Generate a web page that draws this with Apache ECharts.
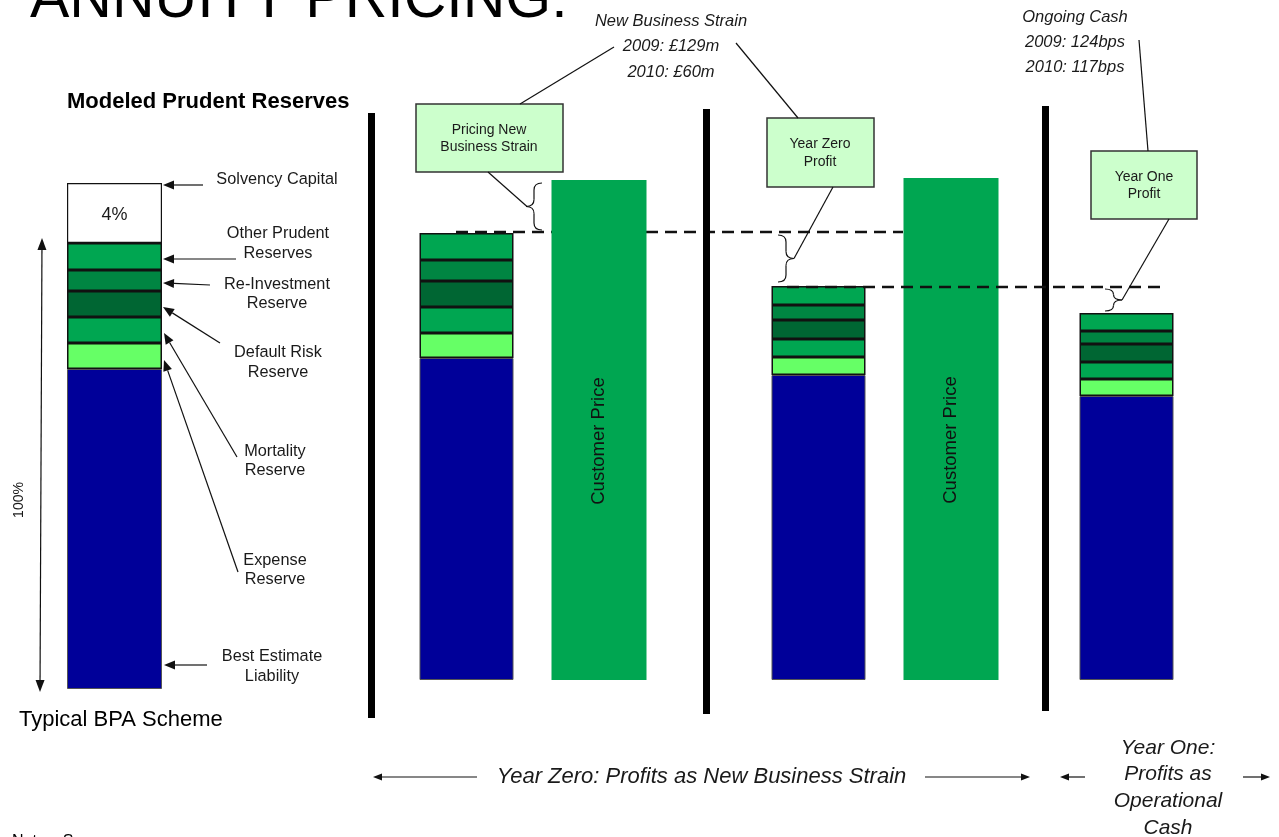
<!DOCTYPE html>
<html>
<head>
<meta charset="utf-8">
<script src="https://cdn.jsdelivr.net/npm/echarts@6/dist/echarts.min.js"></script>
<style>
html,body{margin:0;padding:0;background:#fff;overflow:hidden}
#main{width:1279px;height:837px}
</style>
</head>
<body>
<div id="main"></div>
<script>
// ---------------- DATA ----------------
// reserve components, bottom to top
const reserveNames = ['Best Estimate Liability', 'Expense Reserve', 'Mortality Reserve',
  'Default Risk Reserve', 'Re-Investment Reserve', 'Other Prudent Reserves'];
// Typical BPA scheme column (schematic units)
const bpaCategory = ['Typical BPA Scheme'];
const bpaScheme = [320, 26, 26, 26, 21, 27];
const bpaSolvency = 60;
const bpaSolvencyLabel = '4%';
// reserve columns: pricing basis, year zero, year one
const columnNames = ['Pricing Basis', 'Year Zero Reserves', 'Year One Reserves'];
const bestEstimate = [322, 305, 284];
const expenseRes   = [25, 18, 17];
const mortalityRes = [26, 18, 17];
const defaultRes   = [26, 19, 18];
const reinvestRes  = [21, 15, 13];
const otherRes     = [27, 19, 18];
// customer price columns
const priceNames = ['Customer Price (pricing)', 'Customer Price (year zero)'];
const priceLabel = 'Customer Price';
const customerPrice = [500, 502];

// ---------------- LAYOUT / STYLE ----------------
const FONT = '"Liberation Sans", Arial, sans-serif';
const SLOT_COUNT = 24;
const reserveSlots = [8, 16, 23];   // category slots of reserve columns
const priceSlots = [11, 19];        // category slots of price columns
const reserveColors = ['#000099', '#66FF66', '#00A651', '#006633', '#008542', '#00A651'];
const reserveCols = [bestEstimate, expenseRes, mortalityRes, defaultRes, reinvestRes, otherRes];

// category axis with spacer slots
const slotCats = Array.from({length: SLOT_COUNT}, (_, i) => ' '.repeat(i + 1));
reserveSlots.forEach((s, j) => { slotCats[s] = columnNames[j]; });
priceSlots.forEach((s, j) => { slotCats[s] = priceNames[j]; });
function spread(slots, values) {
  const arr = Array(SLOT_COUNT).fill('-');
  slots.forEach((s, j) => { arr[s] = values[j]; });
  return arr;
}

const chart = echarts.init(document.getElementById('main'), null, {renderer: 'canvas'});

const series = [];
// left scheme column
reserveNames.forEach((name, i) => {
  series.push({
    name, type: 'bar', xAxisIndex: 0, yAxisIndex: 0, stack: 'bpa', barWidth: 95, clip: false,
    data: [bpaScheme[i]],
    itemStyle: {color: reserveColors[i], borderColor: i === 0 ? '#555' : '#111', borderWidth: i === 0 ? 1 : 1.5}
  });
});
series.push({
  name: 'Solvency Capital', type: 'bar', xAxisIndex: 0, yAxisIndex: 0, stack: 'bpa', barWidth: 95, clip: false,
  data: [{value: bpaSolvency}],
  itemStyle: {color: '#FFFFFF', borderColor: '#111', borderWidth: 1.2},
  label: {show: true, position: 'inside', formatter: bpaSolvencyLabel, color: '#1a1a1a',
    fontSize: 18, fontFamily: FONT, offset: [0, 2]}
});
// main reserve columns
reserveNames.forEach((name, i) => {
  series.push({
    name, type: 'bar', xAxisIndex: 1, yAxisIndex: 1, stack: 'reserves', barWidth: 94, barGap: '-100%',
    clip: false,
    data: spread(reserveSlots, reserveCols[i]),
    itemStyle: {color: reserveColors[i], borderColor: i === 0 ? '#555' : '#111', borderWidth: i === 0 ? 1 : 1.5}
  });
});
// customer price columns
series.push({
  name: priceLabel, type: 'bar', xAxisIndex: 1, yAxisIndex: 1, stack: 'price', barWidth: 95, barGap: '-100%',
  clip: false,
  data: spread(priceSlots, customerPrice),
  itemStyle: {color: '#00A651'},
  label: {show: true, position: 'inside', rotate: 90, formatter: '{a}', color: '#111',
    fontSize: 18.5, fontFamily: FONT, offset: [-11, 0]}
});

chart.setOption({
  animation: false,
  backgroundColor: '#ffffff',
  textStyle: {fontFamily: FONT},
  grid: [
    {left: 52, width: 125, top: 100, height: 589},
    {left: 93, width: 1056, top: 100, height: 580}
  ],
  xAxis: [
    {type: 'category', gridIndex: 0, data: bpaCategory, show: false},
    {type: 'category', gridIndex: 1, data: slotCats, show: false}
  ],
  yAxis: [
    {type: 'value', gridIndex: 0, min: 0, max: 589, show: false},
    {type: 'value', gridIndex: 1, min: 0, max: 580, show: false}
  ],
  series
});

// ---------------- ANNOTATIONS ----------------
const colTotal = j => reserveCols.reduce((a, arr) => a + arr[j], 0);
const py = (slot, v) => chart.convertToPixel({xAxisIndex: 1, yAxisIndex: 1}, [slot, v])[1];
const top1 = py(reserveSlots[0], colTotal(0));
const top3 = py(reserveSlots[1], colTotal(1));
const top4 = py(reserveSlots[2], colTotal(2));
const cp1Top = py(priceSlots[0], customerPrice[0]);

const g = [];
const INK = '#111';
function text(x, y, t, font, opts) {
  opts = opts || {};
  g.push({
    type: 'text', x, y, z: 20, rotation: opts.rotation || 0,
    style: {text: t, font, fill: opts.color || '#1a1a1a', align: opts.align || 'center',
      textAlign: opts.align || 'center', verticalAlign: 'middle', textVerticalAlign: 'middle',
      lineHeight: opts.lh || undefined}
  });
}
function line(x1, y1, x2, y2, lw, dash, z) {
  g.push({type: 'line', z: z === undefined ? 15 : z, shape: {x1, y1, x2, y2},
    style: {stroke: INK, lineWidth: lw || 1.2, lineDash: dash || null}});
}
function arrow(x1, y1, x2, y2, len, w, lw) {
  len = len || 10; w = w || 4;
  const a = Math.atan2(y2 - y1, x2 - x1);
  const bx = x2 - len * Math.cos(a), by = y2 - len * Math.sin(a);
  const nx = -Math.sin(a) * w, ny = Math.cos(a) * w;
  line(x1, y1, bx, by, lw || 1.2);
  g.push({type: 'polygon', z: 15, shape: {points: [[x2, y2], [bx + nx, by + ny], [bx - nx, by - ny]]},
    style: {fill: INK}});
}
function box(x, y, w, h) {
  g.push({type: 'rect', z: 12, shape: {x, y, width: w, height: h},
    style: {fill: '#CCFFCC', stroke: '#333', lineWidth: 1.5}});
}
function brace(xb, y0, y1, dir, w) {
  const ym = (y0 + y1) / 2, xm = xb + dir * w / 2, xt = xb + dir * w;
  const r = Math.min(7, (y1 - y0) / 4);
  const st = {stroke: INK, lineWidth: 1.2, fill: 'none'};
  const bz = (x1, y1_, x2, y2, cx, cy) => g.push({type: 'bezierCurve', z: 15,
    shape: {x1, y1: y1_, x2, y2, cpx1: cx, cpy1: cy}, style: st});
  bz(xb, y0, xm, y0 + r, xm, y0);
  line(xm, y0 + r, xm, ym - r);
  bz(xm, ym - r, xt, ym, xm, ym);
  bz(xt, ym, xm, ym + r, xm, ym);
  line(xm, ym + r, xm, y1 - r);
  bz(xm, y1 - r, xb, y1, xm, y1);
  return [xt, ym];
}

// title
text(30, 1, 'ANNUITY PRICING:', '59px ' + FONT, {align: 'left', color: '#000'});
text(67, 102, 'Modeled Prudent Reserves', 'bold 22px ' + FONT, {align: 'left', color: '#000'});

// left-column labels and arrows
const LF = '16.3px ' + FONT;
text(277, 180, 'Solvency Capital', LF);
text(278, 244, 'Other Prudent\nReserves', LF, {lh: 20});
text(277, 294, 'Re-Investment\nReserve', LF, {lh: 19});
text(278, 363, 'Default Risk\nReserve', LF, {lh: 20});
text(275, 461.5, 'Mortality\nReserve', LF, {lh: 19});
text(275, 570.5, 'Expense\nReserve', LF, {lh: 19});
text(272, 667, 'Best Estimate\nLiability', LF, {lh: 20});
arrow(203, 185, 163, 185, 11, 4.5);
arrow(236, 259, 163, 259, 11, 4.5);
arrow(210, 285, 163, 283, 11, 4.5);
arrow(220, 343, 163, 307, 11, 4.5);
arrow(237, 457, 164, 333, 11, 4.5);
arrow(238, 572, 164, 360, 11, 4.5);
arrow(207, 665, 164, 665, 11, 4.5);
// 100% double arrow
arrow(41, 465, 42, 238, 12, 4.5);
arrow(41, 465, 40, 692, 12, 4.5);
text(19, 500, '100%', '14px ' + FONT, {rotation: Math.PI / 2});
text(19, 720, 'Typical BPA Scheme', '22px ' + FONT, {align: 'left', color: '#000'});

// divider lines
[[368, 113], [703, 109], [1042, 106]].forEach(([x, y]) => {
  g.push({type: 'rect', z: 5, shape: {x, y, width: 7, height: 605}, style: {fill: '#000'}});
});

// dashed profit levels
line(456, top1 - 1, 903, top1 - 1, 2.5, [12, 7], 0);
line(787, top3 + 1, 1163, top3 + 1, 2.5, [12, 7], 15);

// braces
const t1 = brace(542, cp1Top + 3, top1 - 3, -1, 16);
const t2 = brace(778, top1 + 2, top3 - 4, 1, 16);
const t3 = brace(1105, top3 + 3, top4 - 2, 1, 17);

// callout boxes
box(416, 104, 147, 68);
text(489, 138.5, 'Pricing New\nBusiness Strain', '14px ' + FONT, {lh: 17});
line(488, 172, t1[0] + 1, t1[1]);
line(520, 104, 614, 47);
box(767, 118, 107, 69);
text(820, 153, 'Year Zero\nProfit', '14px ' + FONT, {lh: 18});
line(833, 187, t2[0], t2[1]);
line(798, 118, 736, 43);
box(1091, 151, 106, 68);
text(1144, 185.5, 'Year One\nProfit', '14px ' + FONT, {lh: 17});
line(1169, 219, t3[0], t3[1]);
line(1148, 151, 1139, 40);

// top notes
text(671, 46.5, 'New Business Strain\n2009: £129m\n2010: £60m', 'italic 16.5px ' + FONT, {lh: 25.5});
text(1075, 42, 'Ongoing Cash\n2009: 124bps\n2010: 117bps', 'italic 16.5px ' + FONT, {lh: 25});

// bottom period labels
text(701.5, 777, 'Year Zero: Profits as New Business Strain', 'italic 22px ' + FONT);
arrow(477, 777, 373, 777, 9, 3.5);
arrow(925, 777, 1030, 777, 9, 3.5);
text(1168, 788, 'Year One:\nProfits as\nOperational\nCash', 'italic 21px ' + FONT, {lh: 26.7});
arrow(1085, 777, 1060, 777, 9, 3.5);
arrow(1243, 777, 1270, 777, 9, 3.5);
text(12, 842, 'Notes: Source', '16px ' + FONT, {align: 'left', color: '#000'});

chart.setOption({graphic: {elements: g}});
</script>
</body>
</html>
